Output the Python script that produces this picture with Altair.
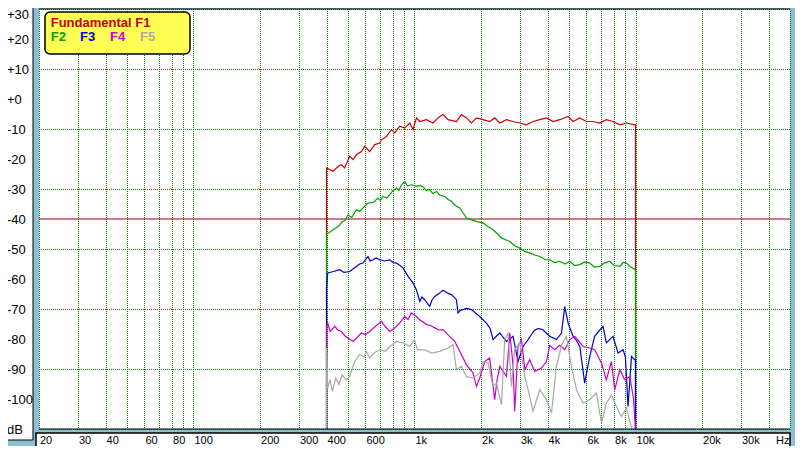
import altair as alt
import pandas as pd

# ---------------- data ----------------
f1_freq = [400, 400, 428, 451, 467, 483, 509, 527, 546, 575, 595, 627, 661, 696, 709, 746, 786, 814,
           857, 903, 952, 985, 1021, 1056, 1132, 1213, 1278, 1346, 1418, 1548, 1631, 1718, 1810, 1907,
           2042, 2190, 2307, 2430, 2606, 2792, 2993, 3210, 3438, 3686, 3952, 4235, 4541, 4951, 5216,
           5591, 5997, 6425, 6888, 7385, 7913, 8485, 9098, 9924, 10000, 10000]
f1_db = [-110, -23.0, -24.1, -22.5, -21.9, -23.0, -19.1, -20.2, -18.6, -17.5, -15.8, -17.5, -15.2, -14.7,
         -13.6, -12.5, -10.2, -11.3, -9.1, -9.7, -8.0, -10.2, -6.3, -7.5, -6.9, -8.0, -6.3, -5.2, -6.9,
         -7.5, -5.2, -6.3, -8.0, -6.3, -6.9, -7.5, -6.3, -8.0, -6.9, -7.5, -8.0, -8.6, -7.5, -6.9, -6.3,
         -7.5, -6.9, -5.8, -7.5, -6.3, -7.5, -7.5, -8.0, -6.9, -7.5, -8.6, -8.0, -8.6, -8.6, -110]

f2_freq = [400, 400, 410, 430, 450, 470, 485, 500, 520, 546, 565, 585, 600, 616, 650, 684, 700, 721, 750,
           773, 800, 828, 850, 873, 903, 930, 968, 1020, 1060, 1094, 1130, 1172, 1210, 1257, 1300, 1371,
           1420, 1470, 1530, 1603, 1660, 1718, 1800, 1900, 2042, 2150, 2266, 2380, 2475, 2600, 2698,
           2850, 2993, 3150, 3320, 3500, 3690, 3900, 4090, 4300, 4540, 4800, 5036, 5300, 5598, 5900,
           6210, 6500, 6888, 7200, 7640, 8000, 8492, 8800, 9100, 9500, 9910, 10000, 10000]
f2_db = [-110, -45, -44.6, -43.5, -42.6, -41.0, -40.5, -38.6, -39.5, -36.9, -37.5, -36.3, -35.5, -34.7,
         -34.5, -33.0, -33.8, -32.5, -33.0, -31.9, -30.5, -29.7, -30.5, -28.6, -27.5, -29.0, -28.6,
         -29.1, -28.8, -29.3, -30.5, -30.2, -31.5, -30.8, -32.0, -32.5, -33.5, -34.1, -35.5, -36.3,
         -38.0, -39.7, -40.2, -40.8, -41.3, -42.5, -43.6, -45.0, -46.3, -47.0, -47.5, -49.0, -49.7,
         -50.8, -51.3, -52.0, -52.5, -53.5, -53.6, -54.5, -54.1, -55.0, -54.1, -55.5, -55.2, -54.3,
         -54.7, -56.0, -55.8, -54.8, -54.1, -55.5, -55.8, -54.5, -54.7, -56.0, -56.7, -57.0, -110]

f3_freq = [400, 400, 405, 430, 459, 480, 509, 530, 546, 565, 585, 600, 616, 630, 649, 670, 697, 730, 773,
           800, 828, 860, 887, 935, 984, 1020, 1057, 1080, 1112, 1140, 1172, 1200, 1235, 1300, 1340,
           1371, 1420, 1470, 1548, 1574, 1610, 1659, 1720, 1811, 1900, 1973, 2042, 2115, 2200, 2266,
           2350, 2433, 2520, 2607, 2700, 2793, 2940, 3020, 3098, 3266, 3380, 3500, 3650, 3820, 4090,
           4386, 4625, 4786, 4954, 5216, 5400, 5598, 5888, 6210, 6532, 6800, 7130, 7380, 7910, 8340,
           8790, 9000, 9250, 9590, 9910, 10000, 10000]
f3_db = [-110, -63, -58.0, -57.5, -56.9, -57.8, -57.5, -56.5, -55.8, -55.0, -54.7, -53.5, -52.5, -54.0,
         -53.6, -53.0, -53.6, -54.0, -53.6, -54.5, -54.7, -55.5, -56.3, -59.1, -61.3, -63.6, -67.5,
         -66.0, -66.9, -68.0, -69.1, -67.0, -65.8, -64.7, -63.8, -64.1, -64.8, -65.2, -66.9, -71.3,
         -70.5, -70.2, -69.8, -70.2, -71.5, -72.5, -73.6, -74.7, -76.5, -80.2, -79.0, -78.0, -79.5,
         -80.8, -80.0, -79.1, -87.5, -85.0, -82.5, -80.2, -78.5, -77.0, -76.5, -77.0, -79.1, -80.2,
         -78.0, -69.1, -74.7, -79.1, -80.5, -82.5, -94.7, -85.8, -79.1, -77.5, -75.8, -81.3, -79.1,
         -84.7, -83.6, -86.0, -102.5, -85.8, -86.9, -87.0, -110]

f4_freq = [400, 400, 405, 415, 436, 450, 467, 485, 500, 527, 550, 575, 600, 627, 660, 708, 740, 773, 810,
           857, 903, 935, 968, 1020, 1056, 1133, 1180, 1235, 1290, 1346, 1418, 1520, 1630, 1718, 1840,
           1906, 1973, 2080, 2188, 2306, 2360, 2433, 2607, 2698, 2760, 2793, 2840, 2940, 3048, 3156,
           3320, 3500, 3752, 3954, 4090, 4306, 4540, 4786, 5036, 5310, 5792, 6210, 6532, 7012, 7380,
           7780, 8054, 8492, 8938, 9420, 9800, 10000]
f4_db = [-110, -76, -74.7, -77.5, -75.8, -77.0, -77.5, -79.0, -79.7, -80.8, -79.5, -78.0, -78.5, -77.5,
         -76.0, -74.1, -76.0, -77.5, -76.5, -74.7, -72.5, -73.5, -71.3, -72.5, -73.6, -75.2, -75.5,
         -76.3, -77.0, -76.9, -78.6, -80.8, -85.2, -88.6, -91.3, -95.8, -93.0, -87.5, -86.3, -100.2,
         -94.0, -89.1, -92.5, -78.0, -85.0, -89.1, -104.1, -82.5, -80.2, -90.2, -86.9, -90.8, -89.7,
         -87.5, -82.1, -83.6, -82.1, -83.6, -80.2, -79.1, -82.5, -83.0, -83.6, -88.0, -93.6, -87.5,
         -96.9, -90.2, -93.6, -92.5, -100.0, -110]

f5_freq = [400, 400, 405, 415, 425, 440, 455, 470, 492, 509, 536, 565, 590, 606, 627, 660, 697, 740, 773,
           828, 887, 952, 1000, 1030, 1112, 1194, 1300, 1418, 1494, 1548, 1630, 1718, 1840, 1973, 2042,
           2152, 2266, 2348, 2475, 2560, 2650, 2746, 2840, 2993, 3156, 3320, 3436, 3690, 3954, 4168,
           4386, 4625, 4866, 5128, 5408, 5792, 6210, 6654, 7012, 7380, 7780, 8186, 8630, 9100, 9590]
f5_db = [-110, -83, -96.4, -93.6, -97.5, -93.0, -95.2, -92.0, -93.6, -92.5, -87.5, -85.2, -86.0, -84.1,
         -86.3, -84.5, -83.6, -84.0, -82.5, -80.8, -81.3, -82.5, -80.2, -83.6, -83.6, -84.7, -84.1,
         -83.0, -81.9, -90.2, -89.1, -92.5, -93.0, -91.3, -87.5, -88.0, -95.8, -94.7, -101.9, -80.2,
         -78.0, -95.8, -83.6, -81.3, -92.5, -99.1, -104.1, -96.9, -100.2, -104.7, -89.1, -82.1, -79.1,
         -89.1, -96.9, -101.4, -100.2, -98.0, -108.0, -101.4, -98.6, -102.5, -105.8, -103.0, -109.7]

series_names = ["F1", "F2", "F3", "F4", "F5"]
series_colors = ["#CC0000", "#00A000", "#0000CC", "#CC00CC", "#A8A8A8"]
series_data = [(f1_freq, f1_db), (f2_freq, f2_db), (f3_freq, f3_db), (f4_freq, f4_db), (f5_freq, f5_db)]

x_grid = [20, 30, 40, 50, 60, 70, 80, 90, 100, 200, 300, 400, 500, 600, 700, 800, 900,
          1000, 2000, 3000, 4000, 5000, 6000, 7000, 8000, 9000, 10000, 20000, 30000, 40000, 50000]
x_label_vals = [20, 30, 40, 60, 80, 100, 200, 300, 400, 600, 1000, 2000, 3000, 4000, 6000, 8000,
                10000, 20000, 30000]
x_label_text = ["20", "30", "40", "60", "80", "100", "200", "300", "400", "600", "1k", "2k", "3k",
                "4k", "6k", "8k", "10k", "20k", "30k"]
y_vals = [30, 20, 10, 0, -10, -20, -30, -40, -50, -60, -70, -80, -90, -100, -110]
y_text = ["+30", "+20", "+10", "+0", "-10", "-20", "-30", "-40", "-50", "-60", "-70", "-80", "-90",
          "-100", "dB"]

# ---------------- chart ----------------
W, H = 751, 420
FONT = "Liberation Sans"
xs = alt.Scale(type="log", domain=[20, 50000], nice=False)
ys = alt.Scale(domain=[-110, 30], nice=False, zero=False)
grid_kw = dict(grid=True, gridColor="#008000", gridDash=[1, 1], gridDashOffset=0.5, gridWidth=1,
               labels=False, ticks=False, domain=False, title=None)

one = pd.DataFrame({"a": [0]})

xbox = alt.Chart(one).mark_rect(fill="white", stroke="black", strokeWidth=1.5).encode(
    x=alt.value(-3), x2=alt.value(751), y=alt.value(424), y2=alt.value(442))
ybox = alt.Chart(one).mark_rect(fill="white", stroke="black", strokeWidth=1).encode(
    x=alt.value(-40), x2=alt.value(-6), y=alt.value(-10), y2=alt.value(431))

ref = alt.Chart(pd.DataFrame({"y": [-40]})).mark_rule(color="#A00000", strokeWidth=1).encode(
    y=alt.Y("y:Q", scale=ys, axis=alt.Axis(values=y_vals, **grid_kw)))

layers = [xbox, ybox, ref]
for name, col, (fr, db) in zip(series_names, series_colors, series_data):
    d = pd.DataFrame({"freq": fr, "db": db, "idx": list(range(len(fr)))})
    layers.append(alt.Chart(d).mark_line(color=col, strokeWidth=1.2).encode(
        x=alt.X("freq:Q", scale=xs, axis=alt.Axis(values=x_grid, **grid_kw)),
        y=alt.Y("db:Q", scale=ys, axis=alt.Axis(values=y_vals, **grid_kw)),
        order="idx:Q"))

border = alt.Chart(pd.DataFrame({"y": [30, -110]})).mark_rule(color="black", strokeWidth=1).encode(
    y=alt.Y("y:Q", scale=ys))

xlab = alt.Chart(pd.DataFrame({"v": x_label_vals, "t": x_label_text})).mark_text(
    align="left", baseline="middle", dx=1, fontSize=11, font=FONT, color="black").encode(
    x=alt.X("v:Q", scale=xs), y=alt.value(431.5), text="t:N")
hz = alt.Chart(one).mark_text(align="left", baseline="middle", fontSize=11, font=FONT,
                              color="black", text="Hz").encode(x=alt.value(737), y=alt.value(431.5))
ylab = alt.Chart(pd.DataFrame({"v": y_vals[1:], "t": y_text[1:]})).mark_text(
    align="left", baseline="middle", dy=1, fontSize=13, font=FONT, color="black").encode(
    y=alt.Y("v:Q", scale=ys), x=alt.value(-32), text="t:N")
ylab_top = alt.Chart(pd.DataFrame({"v": y_vals[:1], "t": y_text[:1]})).mark_text(
    align="left", baseline="middle", dy=6, fontSize=13, font=FONT, color="black").encode(
    y=alt.Y("v:Q", scale=ys), x=alt.value(-32), text="t:N")

legbox = alt.Chart(one).mark_rect(fill="#FFFF55", stroke="black", strokeWidth=1.5,
                                  cornerRadius=5).encode(
    x=alt.value(6), x2=alt.value(151), y=alt.value(3), y2=alt.value(45))
leg_text = ["Fundamental F1", "F2", "F3", "F4", "F5"]
leg_x = [11.7, 11.7, 41, 71, 101]
leg_y = [17.7, 32.3, 32.3, 32.3, 32.3]
legs = []
for t, lx, ly, c in zip(leg_text, leg_x, leg_y, ["#CC0000", "#00A000", "#0000DD", "#CC00CC", "#AAAAAA"]):
    legs.append(alt.Chart(one).mark_text(align="left", baseline="alphabetic", fontSize=13,
                                         fontWeight="bold", font=FONT, color=c, text=t).encode(
        x=alt.value(lx), y=alt.value(ly)))

chart = alt.layer(*layers, border, xlab, hz, ylab, ylab_top, legbox, *legs).properties(
    width=W, height=H,
    padding={"left": 31, "top": 1, "right": 5, "bottom": 17},
    autosize=alt.AutoSizeParams(type="none"),
).configure(background="#8CBED6").configure_view(fill="white", stroke=None)

chart.save("out.html", embed_options={"renderer": "svg", "actions": False})
